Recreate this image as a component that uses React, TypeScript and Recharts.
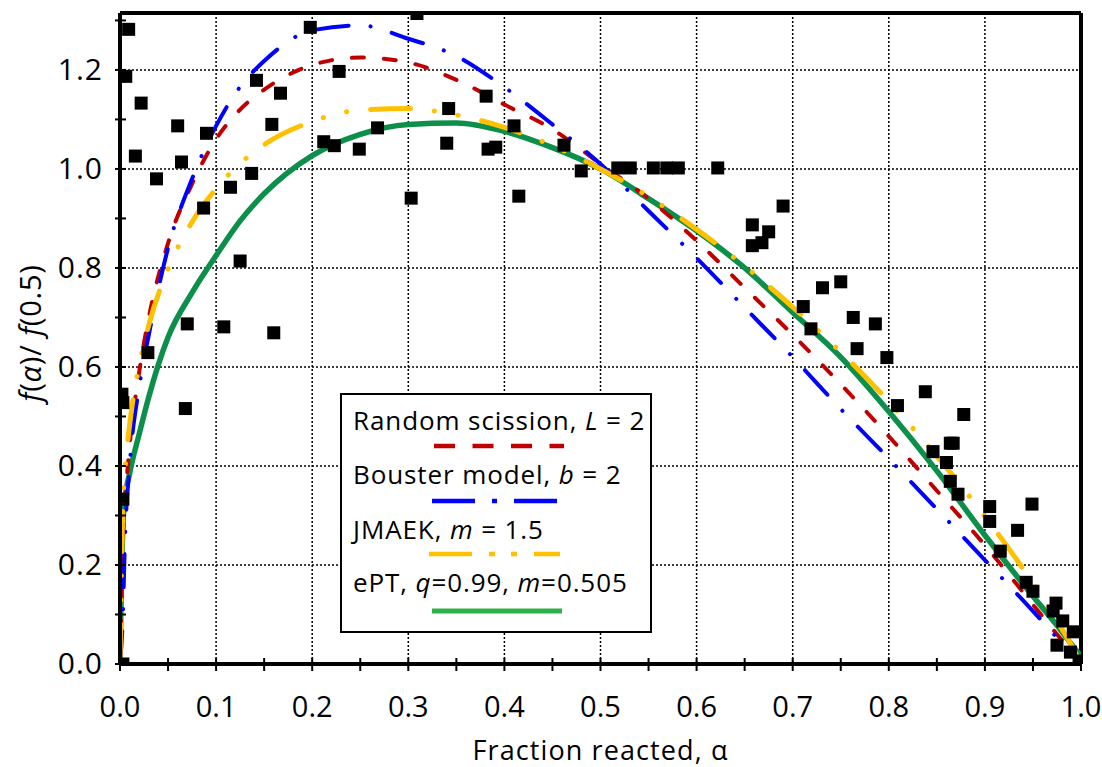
import React from 'react';
import { ComposedChart, Line, Scatter, XAxis, YAxis, CartesianGrid, ReferenceLine } from 'recharts';

// fraction reacted used for the model curves
const ALPHA = [0, 0.003, 0.005, 0.01, 0.02, 0.03, 0.05, 0.075, 0.1, 0.125, 0.15, 0.2, 0.25, 0.3, 0.35, 0.4, 0.45, 0.5, 0.55, 0.6, 0.65, 0.7, 0.75, 0.8, 0.85, 0.9, 0.95, 0.975, 0.99, 1.0];

// f(a)/f(0.5) for each model
const RANDOM_SCISSION = [0, 0.25, 0.32, 0.44, 0.59, 0.7, 0.85, 0.97, 1.06, 1.12, 1.16, 1.21, 1.225, 1.215, 1.18, 1.13, 1.08, 1.01, 0.94, 0.855, 0.76, 0.665, 0.565, 0.46, 0.35, 0.24, 0.12, 0.06, 0.025, 0];
const BOUSTER = [0, 0.1, 0.24, 0.4, 0.56, 0.665, 0.84, 0.98, 1.087, 1.166, 1.218, 1.28, 1.29, 1.263, 1.228, 1.165, 1.09, 1.01, 0.915, 0.82, 0.72, 0.62, 0.515, 0.415, 0.313, 0.21, 0.107, 0.053, 0.02, 0];
const JMAEK = [0, 0.32, 0.385, 0.483, 0.603, 0.685, 0.798, 0.893, 0.96, 1.011, 1.049, 1.096, 1.119, 1.122, 1.109, 1.084, 1.047, 1.0, 0.944, 0.878, 0.804, 0.721, 0.63, 0.53, 0.42, 0.298, 0.163, 0.087, 0.038, 0];
const EPT = [0, 0.28, 0.33, 0.385, 0.465, 0.54, 0.66, 0.75, 0.825, 0.895, 0.95, 1.027, 1.07, 1.09, 1.093, 1.076, 1.043, 1.0, 0.94, 0.875, 0.8, 0.71, 0.62, 0.51, 0.39, 0.26, 0.137, 0.078, 0.04, 0.015];

// experimental points
const POINT_ALPHA = [0.003, 0.003, 0.003, 0.002, 0.006, 0.009, 0.016, 0.022, 0.029, 0.038, 0.06, 0.064, 0.068, 0.07, 0.087, 0.09, 0.108, 0.115, 0.125, 0.137, 0.142, 0.158, 0.16, 0.167, 0.198, 0.212, 0.223, 0.228, 0.249, 0.268, 0.303, 0.309, 0.34, 0.342, 0.381, 0.383, 0.391, 0.41, 0.415, 0.462, 0.48, 0.518, 0.531, 0.555, 0.569, 0.581, 0.622, 0.658, 0.658, 0.668, 0.675, 0.69, 0.711, 0.719, 0.731, 0.75, 0.763, 0.767, 0.786, 0.798, 0.809, 0.838, 0.846, 0.86, 0.864, 0.867, 0.864, 0.872, 0.878, 0.905, 0.905, 0.916, 0.934, 0.943, 0.949, 0.95, 0.971, 0.974, 0.975, 0.981, 0.989, 0.992, 0.998];
const POINT_VALUE = [0.0, 0.333, 0.528, 0.545, 1.187, 1.282, 1.026, 1.133, 0.629, 0.98, 1.087, 1.014, 0.516, 0.687, 0.921, 1.072, 0.681, 0.963, 0.814, 0.991, 1.179, 1.09, 0.669, 1.153, 1.286, 1.055, 1.047, 1.197, 1.04, 1.083, 0.941, 1.314, 1.052, 1.122, 1.147, 1.04, 1.044, 1.087, 0.945, 1.048, 0.996, 1.002, 1.002, 1.002, 1.002, 1.002, 1.002, 0.887, 0.845, 0.851, 0.873, 0.925, 0.722, 0.677, 0.76, 0.772, 0.7, 0.637, 0.687, 0.619, 0.522, 0.55, 0.429, 0.407, 0.446, 0.446, 0.369, 0.343, 0.504, 0.318, 0.288, 0.228, 0.27, 0.165, 0.323, 0.147, 0.107, 0.123, 0.038, 0.087, 0.024, 0.065, 0.006];

const X_TICKS = [0, 0.05, 0.1, 0.15, 0.2, 0.25, 0.3, 0.35, 0.4, 0.45, 0.5, 0.55, 0.6, 0.65, 0.7, 0.75, 0.8, 0.85, 0.9, 0.95, 1.0];
const Y_TICKS = [0, 0.1, 0.2, 0.3, 0.4, 0.5, 0.6, 0.7, 0.8, 0.9, 1.0, 1.1, 1.2, 1.3];
const X_GRID = [0.1, 0.2, 0.3, 0.4, 0.5, 0.6, 0.7, 0.8, 0.9];
const Y_GRID = [0.2, 0.4, 0.6, 0.8, 1.0, 1.2];
const Y_MAX = 1.315;

const FONT = "'Open Sans', sans-serif";

const curves = ALPHA.map((a, i) => ({
  a,
  rs: RANDOM_SCISSION[i],
  bm: BOUSTER[i],
  jm: JMAEK[i],
  ept: EPT[i],
}));

const points = POINT_ALPHA.map((a, i) => ({ a, v: POINT_VALUE[i] }));

const isMajor = (v: number, step: number) => Math.abs(Math.round(v * 100) % Math.round(step * 100)) === 0;

const XTick = (props: any) => {
  const { x, y, payload } = props;
  return (
    <g>
      <line x1={x} x2={x} y1={y - 6} y2={y + 7} stroke="#000" strokeWidth={2} />
      {isMajor(payload.value, 0.1) && (
        <text x={x} y={y + 53} textAnchor="middle" fontFamily={FONT} fontSize={29} fill="#000">
          {payload.value.toFixed(1)}
        </text>
      )}
    </g>
  );
};

const YTick = (props: any) => {
  const { x, y, payload } = props;
  return (
    <g>
      <line x1={x - 5} x2={x + 6} y1={y} y2={y} stroke="#000" strokeWidth={2} />
      {isMajor(payload.value, 0.2) && (
        <text x={x - 17} y={y + 10} textAnchor="end" fontFamily={FONT} fontSize={30} fill="#000" letterSpacing={1}>
          {payload.value.toFixed(1)}
        </text>
      )}
    </g>
  );
};

const SquareDot = (props: any) => {
  const { cx, cy } = props;
  return <rect x={cx - 6.5} y={cy - 6.5} width={13} height={13} fill="#000" />;
};

const Legend = () => (
  <svg width={312} height={240} style={{ position: 'absolute', left: 340, top: 393 }}>
    <rect x={1} y={1} width={310} height={238} fill="#fff" stroke="#000" strokeWidth={2} />
    <g fontFamily={FONT} fontSize={26} fill="#000" letterSpacing={0.9}>
      <text x={13} y={37}>Random scission, <tspan fontStyle="italic">L</tspan> = 2</text>
      <text x={13} y={91}>Bouster model, <tspan fontStyle="italic">b</tspan> = 2</text>
      <text x={13} y={146}>JMAEK, <tspan fontStyle="italic">m</tspan> = 1.5</text>
      <text x={13} y={199}>ePT, <tspan fontStyle="italic">q</tspan>=0.99, <tspan fontStyle="italic">m</tspan>=0.505</text>
    </g>
    <line x1={94} x2={224} y1={53} y2={53} stroke="#c00000" strokeWidth={4.5} strokeDasharray="21 17.5" />
    <line x1={92} x2={217} y1={108} y2={108} stroke="#0000ff" strokeWidth={4.5} strokeDasharray="43 17 5 17" />
    <line x1={89} x2={220} y1={161} y2={161} stroke="#ffc000" strokeWidth={4.5} strokeDasharray="43 17 6 16 6 17" />
    <line x1={92} x2={222} y1={218} y2={218} stroke="#2fb04a" strokeWidth={5} />
  </svg>
);

const YTitle = () => (
  <svg width={80} height={767} style={{ position: 'absolute', left: 0, top: 0 }}>
    <text transform="translate(41, 333) rotate(-90)" textAnchor="middle" fontFamily={FONT} fontSize={29} fill="#000" letterSpacing={0.8}>
      <tspan fontStyle="italic">f</tspan>(<tspan fontStyle="italic">α</tspan>)/ <tspan fontStyle="italic">f</tspan>(0.5)
    </text>
  </svg>
);

export default function App() {
  return (
    <div style={{ position: 'absolute', left: 0, top: 0, width: 1102, height: 767, background: '#fff' }}>
      <ComposedChart width={1102} height={767} data={curves} margin={{ top: 13, right: 21, left: 0, bottom: 0 }}>
        <CartesianGrid
          stroke="#000"
          strokeWidth={1.5}
          strokeDasharray="2 2"
          horizontalValues={Y_GRID}
          verticalValues={X_GRID}
        />
        <XAxis
          type="number"
          dataKey="a"
          domain={[0, 1]}
          ticks={X_TICKS}
          interval={0}
          tick={<XTick />}
          tickLine={false}
          tickSize={0}
          tickMargin={0}
          height={103}
          axisLine={{ stroke: '#000', strokeWidth: 4 }}
          allowDataOverflow
          label={{ value: 'Fraction reacted, α', position: 'insideBottom', offset: 7, style: { fontFamily: FONT, fontSize: 27, fill: '#000', letterSpacing: 1.1 } }}
        />
        <YAxis
          type="number"
          domain={[0, Y_MAX]}
          ticks={Y_TICKS}
          interval={0}
          tick={<YTick />}
          tickLine={false}
          tickSize={0}
          tickMargin={0}
          width={120}
          axisLine={{ stroke: '#000', strokeWidth: 4 }}
          allowDataOverflow
        />
        <ReferenceLine y={Y_MAX} stroke="#000" strokeWidth={4} />
        <ReferenceLine x={1} stroke="#000" strokeWidth={4} />
        <Line type="monotone" dataKey="ept" stroke="#0b8f4a" strokeWidth={5.5} dot={false} isAnimationActive={false} />
        <Scatter data={points} dataKey="v" shape={<SquareDot />} isAnimationActive={false} />
        <Line type="monotone" dataKey="rs" stroke="#c00000" strokeWidth={4} strokeDasharray="12 20" strokeLinecap="round" dot={false} isAnimationActive={false} />
        <Line type="monotone" dataKey="bm" stroke="#0000ff" strokeWidth={4} strokeDasharray="33 22 0.1 22" strokeLinecap="round" dot={false} isAnimationActive={false} />
        <Line type="monotone" dataKey="jm" stroke="#ffc000" strokeWidth={5} strokeDasharray="40 24 0.1 24 0.1 24" strokeLinecap="round" dot={false} isAnimationActive={false} />
      </ComposedChart>
      <YTitle />
      <Legend />
    </div>
  );
}
